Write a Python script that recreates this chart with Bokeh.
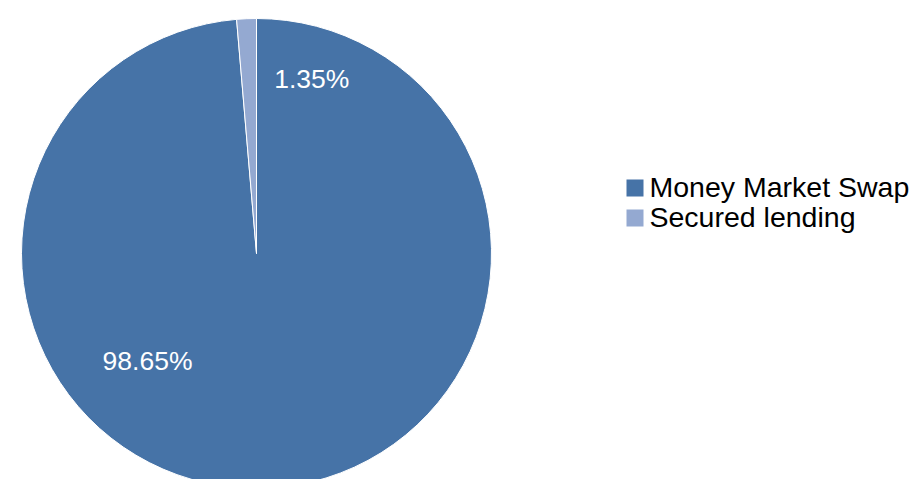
import math
from bokeh.plotting import figure
from bokeh.models import Range1d, ColumnDataSource
from bokeh.core.properties import value
from bokeh.embed import file_html
from bokeh.resources import INLINE

categories = ["Money Market Swap", "Secured lending"]
shares = [98.65, 1.35]
labels = ["98.65%", "1.35%"]
colors = ["#4673a7", "#94a9d1"]

W, H = 912, 479
cx, cy, R = 256, H - 253, 235
FONT = "Liberation Sans"

p = figure(width=W, height=H, output_backend="svg", toolbar_location=None,
           x_range=Range1d(0, W), y_range=Range1d(0, H), min_border=0)
p.axis.visible = False
p.grid.visible = False
p.outline_line_color = None
p.background_fill_color = "white"

total = sum(shares)
starts, ends, cum = [], [], 0.0
for s in shares:
    a0 = math.pi / 2 - cum / total * 2 * math.pi
    cum += s
    a1 = math.pi / 2 - cum / total * 2 * math.pi
    starts.append(a0)
    ends.append(a1)

src = ColumnDataSource(dict(cat=categories, val=shares, start=starts, end=ends, color=colors))
p.wedge(x=cx, y=cy, radius=R, start_angle="start", end_angle="end", direction="clock",
        fill_color="color", line_color="white", line_width=1, source=src)

# label placement (angle clockwise from top in degrees, radius in px)
label_pos = [(225.4, 153), (17.6, 183)]
lx = [cx + r * math.sin(math.radians(a)) for a, r in label_pos]
ly = [cy + r * math.cos(math.radians(a)) for a, r in label_pos]
p.text(x=lx, y=ly, text=labels, text_color="white", text_font=value(FONT),
       text_font_size="26.5px", text_align="center", text_baseline="middle")

# legend
leg_x = 634.5
leg_y0 = H - 187.5
ys = [leg_y0 - 30 * i for i in range(len(categories))]
p.rect(x=[leg_x] * len(categories), y=ys, width=17, height=17, fill_color=colors, line_color=None)
p.text(x=[649] * len(categories), y=[y + 1 for y in ys], text=categories, text_color="black",
       text_font=value(FONT), text_font_size="28.5px", text_font_style="normal",
       text_align="left", text_baseline="middle")

open("out.html", "w").write(file_html(p, INLINE))
